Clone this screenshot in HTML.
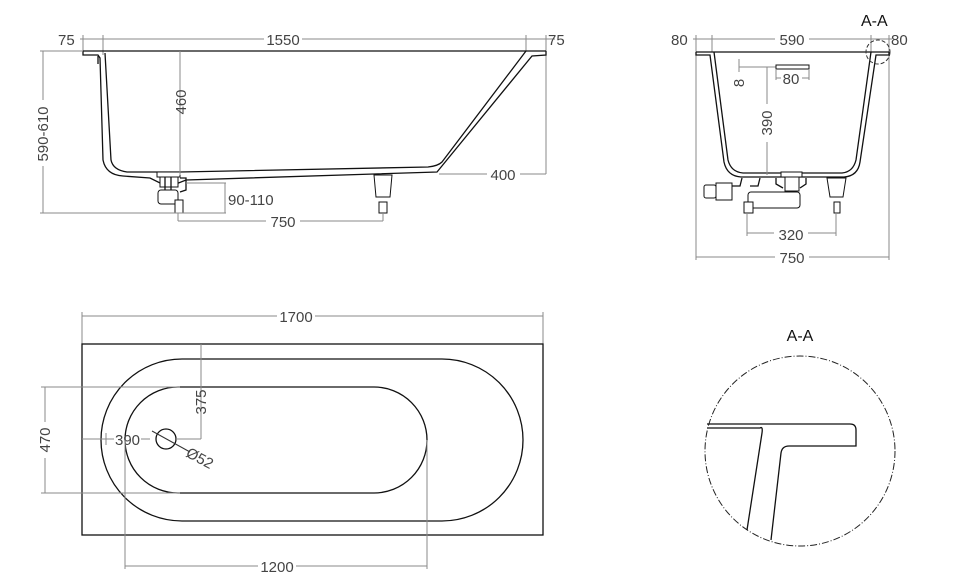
<!DOCTYPE html>
<html><head><meta charset="utf-8"><style>
html,body{margin:0;padding:0;background:#fff;}
svg{display:block;}
text{font-family:"Liberation Sans",sans-serif;font-size:15px;fill:#444;}
.d{stroke:#8a8a8a;stroke-width:1;fill:none;}
.k{stroke:#111;stroke-width:1.3;fill:none;}
.kf{stroke:#111;stroke-width:1;fill:#fff;}
</style></head><body>
<svg width="968" height="577" viewBox="0 0 968 577" xmlns="http://www.w3.org/2000/svg">
<rect width="968" height="577" fill="#fff"/>

<!-- ===== SIDE VIEW ===== -->
<g>
<line class="d" x1="80" y1="39" x2="555" y2="39"/>
<line class="d" x1="83" y1="35" x2="83" y2="51"/>
<line class="d" x1="103" y1="35" x2="103" y2="55"/>
<line class="d" x1="526" y1="35" x2="526" y2="51"/>
<line class="d" x1="546" y1="35" x2="546" y2="174"/>
<rect x="264" y="31" width="38" height="15" fill="#fff"/>
<text x="283" y="45" text-anchor="middle">1550</text>
<text x="58" y="45">75</text>
<text x="548" y="45">75</text>
<path class="k" d="M83,51 L546,51"/>
<path class="k" d="M83,51 L83,55 L98,55 L100,58 L103,160 Q106,175 123,176 L150,178 L160,183 L176,184 L186,180 L437,172 L532,56 L546,55 L546,51"/>
<path class="k" d="M105,53 L111,160 Q113,170 127,172 L180,172 L428,167 Q438,166 442,162 L526,51"/>
<path class="k" d="M98,64 L98,56"/>
<rect class="kf" x="157" y="172" width="23" height="5"/>
<rect class="kf" x="160" y="177" width="18" height="10"/>
<line class="k" x1="165" y1="177" x2="165" y2="190"/><line class="k" x1="171" y1="177" x2="171" y2="190"/>
<rect class="kf" x="158" y="190" width="20" height="14" rx="3"/>
<rect class="kf" x="175" y="200" width="8" height="13"/>
<path class="k" d="M180,178 L186,178 L186,190 L180,192"/>
<path class="kf" d="M374,175 L392,175 L390,197 L376,197 Z"/>
<rect class="kf" x="379" y="202" width="8" height="11"/>
<line class="d" x1="180" y1="51" x2="180" y2="175"/>
<text transform="translate(186,102) rotate(-90)" text-anchor="middle">460</text>
<line class="d" x1="43" y1="51" x2="43" y2="213"/>
<line class="d" x1="40" y1="51" x2="83" y2="51"/>
<line class="d" x1="40" y1="213" x2="226" y2="213"/>
<rect x="36" y="100" width="14" height="66" fill="#fff"/>
<text transform="translate(48,134) rotate(-90)" text-anchor="middle">590-610</text>
<line class="d" x1="439" y1="174" x2="546" y2="174"/>
<rect x="487" y="166" width="33" height="15" fill="#fff"/>
<text x="503" y="180" text-anchor="middle">400</text>
<line class="d" x1="186" y1="183" x2="226" y2="183"/>
<line class="d" x1="225" y1="183" x2="225" y2="213"/>
<text x="228" y="205">90-110</text>
<line class="d" x1="178" y1="213" x2="178" y2="221"/>
<line class="d" x1="383" y1="213" x2="383" y2="221"/>
<line class="d" x1="178" y1="221" x2="383" y2="221"/>
<rect x="266" y="213" width="34" height="15" fill="#fff"/>
<text x="283" y="227" text-anchor="middle">750</text>
</g>

<!-- ===== END VIEW ===== -->
<g>
<line class="d" x1="693" y1="39" x2="892" y2="39"/>
<line class="d" x1="696" y1="35" x2="696" y2="260"/>
<line class="d" x1="712" y1="35" x2="712" y2="52"/>
<line class="d" x1="871" y1="35" x2="871" y2="52"/>
<line class="d" x1="889" y1="35" x2="889" y2="260"/>
<text x="671" y="45">80</text>
<rect x="775" y="31" width="34" height="15" fill="#fff"/>
<text x="792" y="45" text-anchor="middle">590</text>
<text x="891" y="45">80</text>
<text x="861" y="26" style="font-size:16px;fill:#111">A-A</text>
<line class="k" x1="696" y1="52" x2="889" y2="52"/>
<path class="k" d="M696,52 L696,55 L710,55 L724,162 Q727,176 741,177 L844,177 Q858,176 860,162 L876,55 L889,55 L889,52"/>
<path class="k" d="M714,52 L728,160 Q731,172 743,173 L842,173 Q853,172 856,160 L871,52"/>
<circle cx="878" cy="52" r="12" fill="none" stroke="#333" stroke-dasharray="4,2" stroke-width="1"/>
<rect class="kf" x="704" y="185" width="12" height="13" rx="2"/>
<rect class="kf" x="716" y="183" width="16" height="17"/>
<path class="k" d="M732,186 L740,186 L742,178 M750,186 L758,186 L760,178"/>
<rect class="kf" x="748" y="192" width="52" height="16" rx="3"/>
<rect class="kf" x="744" y="202" width="9" height="11"/>
<rect class="kf" x="781" y="172" width="21" height="5"/>
<rect class="kf" x="785" y="177" width="14" height="14"/>
<path class="k" d="M776,178 L776,184 L783,188 M806,178 L806,184 L800,188"/>
<path class="kf" d="M827,178 L846,178 L843,197 L830,197 Z"/>
<rect class="kf" x="834" y="202" width="6" height="11"/>
<line class="d" x1="739" y1="67" x2="803" y2="67"/>
<line class="d" x1="767" y1="67" x2="767" y2="175"/>
<rect x="760" y="104" width="14" height="38" fill="#fff"/>
<text transform="translate(772,123) rotate(-90)" text-anchor="middle">390</text>
<line class="d" x1="739" y1="59" x2="739" y2="72"/>
<text transform="translate(744,83) rotate(-90)" text-anchor="middle">8</text>
<rect x="776" y="65" width="33" height="4" fill="#fff" stroke="#111" stroke-width="1"/>
<line class="d" x1="776" y1="69" x2="776" y2="80"/>
<line class="d" x1="809" y1="69" x2="809" y2="80"/>
<line class="d" x1="776" y1="78" x2="809" y2="78"/>
<rect x="781" y="71" width="21" height="15" fill="#fff"/>
<text x="791" y="84" text-anchor="middle">80</text>
<line class="d" x1="747" y1="213" x2="747" y2="236"/>
<line class="d" x1="836" y1="213" x2="836" y2="236"/>
<line class="d" x1="747" y1="233" x2="836" y2="233"/>
<rect x="774" y="226" width="34" height="15" fill="#fff"/>
<text x="791" y="240" text-anchor="middle">320</text>
<line class="d" x1="696" y1="257" x2="889" y2="257"/>
<rect x="775" y="250" width="34" height="15" fill="#fff"/>
<text x="792" y="263" text-anchor="middle">750</text>
</g>

<!-- ===== PLAN VIEW ===== -->
<g>
<line class="d" x1="82" y1="316" x2="543" y2="316"/>
<line class="d" x1="82" y1="312" x2="82" y2="344"/>
<line class="d" x1="543" y1="312" x2="543" y2="344"/>
<rect x="277" y="308" width="38" height="15" fill="#fff"/>
<text x="296" y="322" text-anchor="middle">1700</text>
<rect x="82" y="344" width="461" height="191" fill="none" stroke="#111" stroke-width="1.3"/>
<rect x="101" y="359" width="422" height="162" rx="81" ry="81" fill="none" stroke="#111" stroke-width="1.3"/>
<rect x="125" y="387" width="302" height="106" rx="53" ry="53" fill="none" stroke="#111" stroke-width="1.3"/>
<circle cx="166" cy="439" r="10" fill="none" stroke="#111" stroke-width="1.3"/>
<line x1="152" y1="431" x2="190" y2="452" stroke="#333" stroke-width="1"/>
<line class="d" x1="201" y1="344" x2="201" y2="439"/>
<line class="d" x1="176" y1="439" x2="201" y2="439"/>
<text transform="translate(206,402) rotate(-90)" text-anchor="middle">375</text>
<line class="d" x1="82" y1="439" x2="114" y2="439"/>
<line class="d" x1="141" y1="439" x2="150" y2="439"/>
<line class="d" x1="106" y1="433" x2="106" y2="445"/>
<text x="115" y="445">390</text>
<text transform="translate(185,456) rotate(28)">Ø52</text>
<line class="d" x1="41" y1="387" x2="180" y2="387"/>
<line class="d" x1="41" y1="493" x2="180" y2="493"/>
<line class="d" x1="45" y1="387" x2="45" y2="493"/>
<rect x="38" y="422" width="14" height="36" fill="#fff"/>
<text transform="translate(50,440) rotate(-90)" text-anchor="middle">470</text>
<line class="d" x1="125" y1="440" x2="125" y2="569"/>
<line class="d" x1="427" y1="440" x2="427" y2="569"/>
<line class="d" x1="125" y1="566" x2="427" y2="566"/>
<rect x="258" y="559" width="38" height="15" fill="#fff"/>
<text x="277" y="572" text-anchor="middle">1200</text>
</g>

<!-- ===== DETAIL A-A ===== -->
<g>
<text x="800" y="341" text-anchor="middle" style="font-size:16px;fill:#111">A-A</text>
<circle cx="800" cy="451" r="95" fill="none" stroke="#222" stroke-width="1" stroke-dasharray="7,2,1,2"/>
<path d="M707,424 L850,424 Q856,424 856,430 L856,446 L789,446 Q782,446 781,453 L771,540" fill="none" stroke="#111" stroke-width="1.3"/>
<path d="M707,428 L760,428 Q763,426 762,433 L747,530" fill="none" stroke="#111" stroke-width="1.3"/>
</g>
</svg>
</body></html>
